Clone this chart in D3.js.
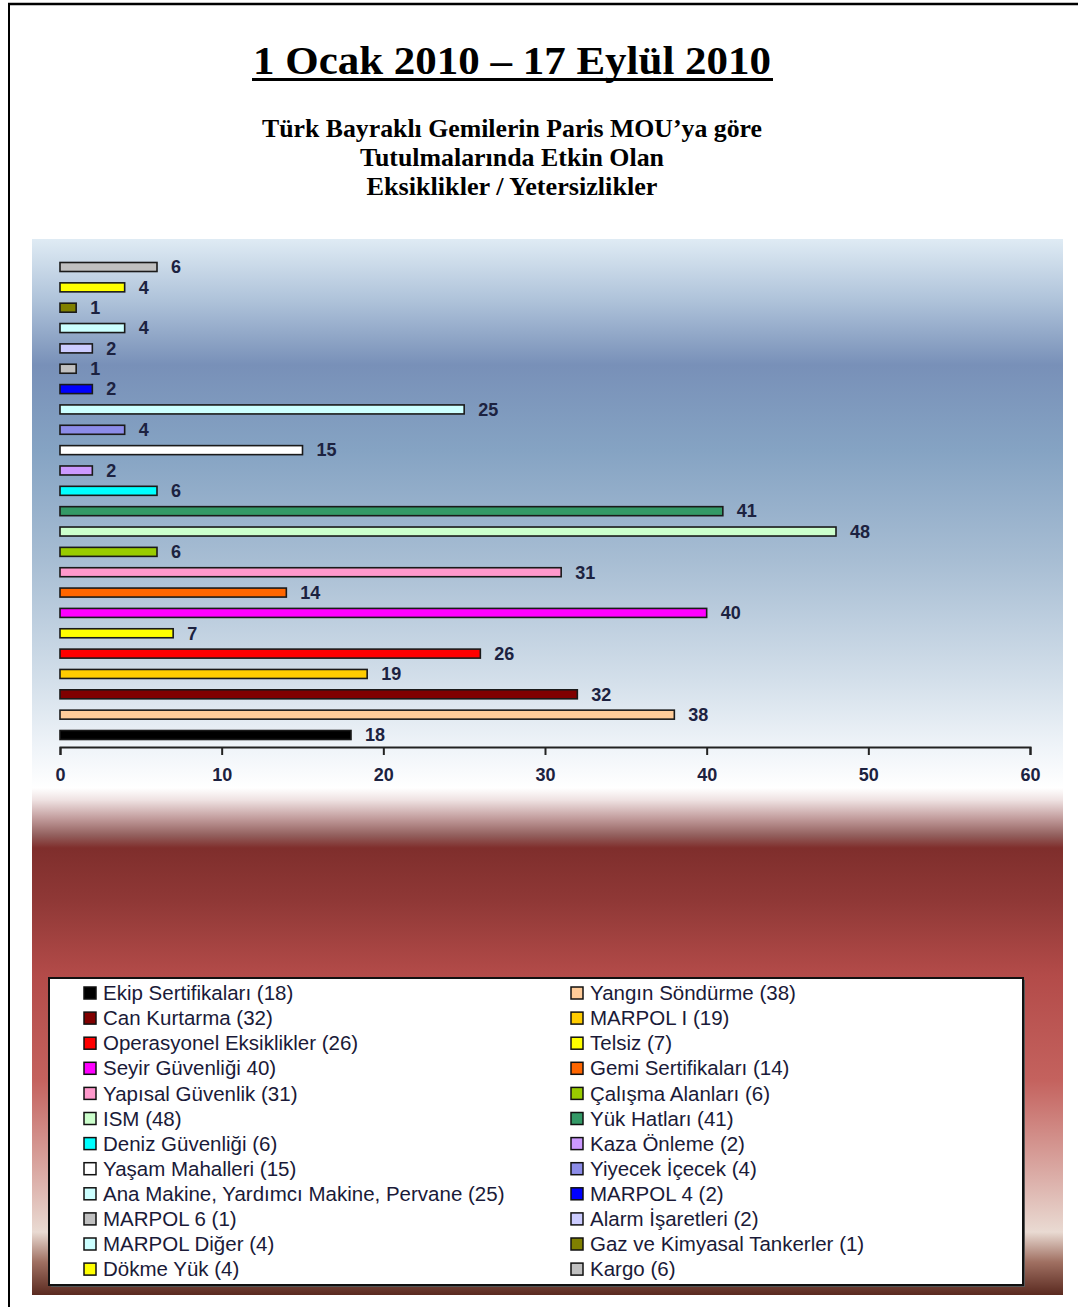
<!DOCTYPE html>
<html>
<head>
<meta charset="utf-8">
<script src="https://cdn.jsdelivr.net/npm/d3@7"></script>
<style>
  body { margin: 0; background: #fff; }
</style>
</head>
<body>
<div id="chart"></div>
<script>
// bars from bottom to top, same order as the legend read row by row
const categories = ["Ekip Sertifikaları", "Yangın Söndürme", "Can Kurtarma", "MARPOL I",
  "Operasyonel Eksiklikler", "Telsiz", "Seyir Güvenliği", "Gemi Sertifikaları",
  "Yapısal Güvenlik", "Çalışma Alanları", "ISM", "Yük Hatları", "Deniz Güvenliği",
  "Kaza Önleme", "Yaşam Mahalleri", "Yiyecek İçecek", "Ana Makine, Yardımcı Makine, Pervane",
  "MARPOL 4", "MARPOL 6", "Alarm İşaretleri", "MARPOL Diğer", "Gaz ve Kimyasal Tankerler",
  "Dökme Yük", "Kargo"]
const values = [18, 38, 32, 19, 26, 7, 40, 14, 31, 6, 48, 41, 6, 2, 15, 4, 25, 2, 1, 2, 4, 1, 4, 6]
const colors = ["#000000", "#ffcc99", "#800000", "#ffcc00", "#ff0000", "#ffff00", "#ff00ff",
  "#ff6600", "#ff99cc", "#99cc00", "#ccffcc", "#339966", "#00ffff", "#cc99ff", "#ffffff",
  "#8c8ce8", "#ccffff", "#0000ff", "#c0c0c0", "#ccccff", "#ccffff", "#808000", "#ffff00", "#c0c0c0"]
// legend text exactly as printed (note "Seyir Güvenliği 40)")
const legendLabels = ["Ekip Sertifikaları (18)", "Yangın Söndürme (38)", "Can Kurtarma (32)",
  "MARPOL I (19)", "Operasyonel Eksiklikler (26)", "Telsiz (7)", "Seyir Güvenliği 40)",
  "Gemi Sertifikaları (14)", "Yapısal Güvenlik (31)", "Çalışma Alanları (6)", "ISM (48)",
  "Yük Hatları (41)", "Deniz Güvenliği (6)", "Kaza Önleme (2)", "Yaşam Mahalleri (15)",
  "Yiyecek İçecek (4)", "Ana Makine, Yardımcı Makine, Pervane (25)", "MARPOL 4 (2)",
  "MARPOL 6 (1)", "Alarm İşaretleri (2)", "MARPOL Diğer (4)", "Gaz ve Kimyasal Tankerler (1)",
  "Dökme Yük (4)", "Kargo (6)"]
const xTicks = [0, 10, 20, 30, 40, 50, 60]
const title = "1 Ocak 2010 – 17 Eylül 2010"
const subtitle = ["Türk Bayraklı Gemilerin Paris MOU’ya göre", "Tutulmalarında Etkin Olan", "Eksiklikler / Yetersizlikler"]

const W = 1078, H = 1307
const svg = d3.select("#chart").append("svg")
  .attr("width", W)
  .attr("height", H)

// page frame (top and left lines)
svg.append("line").attr("x1", 8).attr("x2", W).attr("y1", 4).attr("y2", 4)
  .attr("stroke", "#000").attr("stroke-width", 2.5)
svg.append("line").attr("x1", 9).attr("x2", 9).attr("y1", 3).attr("y2", H)
  .attr("stroke", "#000").attr("stroke-width", 2)

// titles
svg.append("text")
  .attr("x", 512).attr("y", 74)
  .attr("text-anchor", "middle")
  .attr("textLength", 518).attr("lengthAdjust", "spacingAndGlyphs")
  .style("font-family", "'Liberation Serif', 'Times New Roman', serif")
  .style("font-weight", "bold").style("font-size", "40px")
  .text(title)
svg.append("rect").attr("x", 252).attr("y", 78).attr("width", 521).attr("height", 3).attr("fill", "#000")

const subLens = [500, 304, 291]
svg.selectAll("text.sub").data(subtitle).enter().append("text")
  .attr("class", "sub")
  .attr("x", 512).attr("y", (d, i) => 137 + i * 29)
  .attr("text-anchor", "middle")
  .attr("textLength", (d, i) => subLens[i]).attr("lengthAdjust", "spacingAndGlyphs")
  .style("font-family", "'Liberation Serif', 'Times New Roman', serif")
  .style("font-weight", "bold").style("font-size", "25px")
  .text(d => d)

// panel background gradient
const defs = svg.append("defs")
const grad = defs.append("linearGradient").attr("id", "bg")
  .attr("gradientUnits", "userSpaceOnUse")
  .attr("x1", 0).attr("x2", 0).attr("y1", 239).attr("y2", 1295)
const stops = [
  [239, "#dfebf4"], [300, "#afc3da"], [365, "#7890b8"], [450, "#85a3c3"], [560, "#a7bdd3"],
  [680, "#d3dfea"], [745, "#eef3f8"], [788, "#ffffff"], [800, "#efe2e2"], [818, "#c39e9e"],
  [835, "#93605e"], [848, "#7f2e2c"], [900, "#8f3836"], [975, "#b34b49"], [1080, "#c4625e"],
  [1180, "#dcb0aa"], [1232, "#e9dad2"], [1262, "#a07062"], [1295, "#5a2a20"]
]
stops.forEach(s => grad.append("stop")
  .attr("offset", (s[0] - 239) / (1295 - 239))
  .attr("stop-color", s[1]))
svg.append("rect")
  .attr("x", 32).attr("y", 239).attr("width", 1031).attr("height", 1056)
  .attr("fill", "url(#bg)")

// scales
const x = d3.scaleLinear().domain([0, 60]).range([60, 1030])
const y = d3.scalePoint().domain(categories).range([735, 267])
const barH = 9

// axis
const axis = svg.append("g")
  .attr("transform", "translate(0,747)")
  .call(d3.axisBottom(x).tickValues(xTicks).tickSize(8).tickSizeOuter(8).tickPadding(13))
axis.selectAll("path, line").attr("stroke", "#222").attr("stroke-width", 2)
axis.selectAll("text")
  .style("font-family", "'Liberation Sans', Arial, sans-serif")
  .style("font-weight", "bold").style("font-size", "18px")
  .attr("fill", "#1c2240")

// bars
svg.selectAll("rect.bar").data(categories).enter().append("rect")
  .attr("class", "bar")
  .attr("x", x(0))
  .attr("y", d => y(d) - barH / 2)
  .attr("width", (d, i) => x(values[i]) - x(0))
  .attr("height", barH)
  .attr("fill", (d, i) => colors[i])
  .attr("stroke", "#1a1a1a").attr("stroke-width", 1.6)

// value labels
svg.selectAll("text.val").data(categories).enter().append("text")
  .attr("class", "val")
  .attr("x", (d, i) => x(values[i]) + 14)
  .attr("y", d => y(d))
  .attr("dy", "0.35em")
  .style("font-family", "'Liberation Sans', Arial, sans-serif")
  .style("font-weight", "bold").style("font-size", "18px")
  .attr("fill", "#1c2240")
  .text((d, i) => values[i])

// legend
svg.append("rect").attr("x", 51).attr("y", 980).attr("width", 974).attr("height", 307).attr("fill", "#555")
svg.append("rect").attr("x", 49).attr("y", 978).attr("width", 974).attr("height", 307)
  .attr("fill", "#fff").attr("stroke", "#111").attr("stroke-width", 2)

const legend = svg.selectAll("g.leg").data(categories).enter().append("g")
  .attr("class", "leg")
  .attr("transform", (d, i) => `translate(${i % 2 === 0 ? 84 : 571},${993 + Math.floor(i / 2) * 25.1})`)
legend.append("rect")
  .attr("x", 0).attr("y", -6).attr("width", 12).attr("height", 12)
  .attr("fill", (d, i) => colors[i])
  .attr("stroke", "#111").attr("stroke-width", 1.5)
legend.append("text")
  .attr("x", 19).attr("dy", "0.35em")
  .style("font-family", "'Liberation Sans', Arial, sans-serif")
  .style("font-size", "20.5px")
  .attr("fill", "#1a1a38")
  .text((d, i) => legendLabels[i])
</script>
</body>
</html>
